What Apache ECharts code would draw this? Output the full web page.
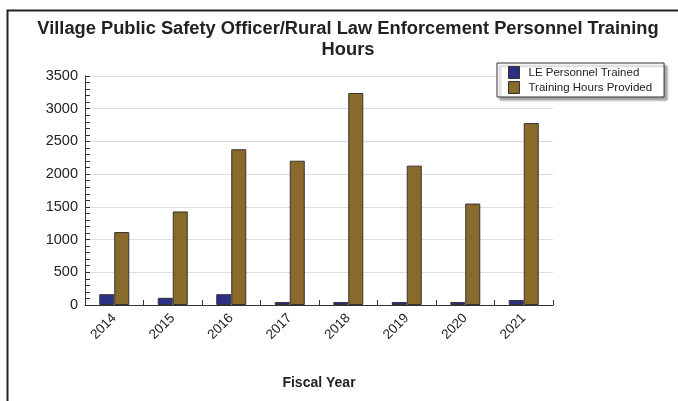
<!DOCTYPE html>
<html>
<head>
<meta charset="utf-8">
<script src="https://cdn.jsdelivr.net/npm/echarts@6/dist/echarts.min.js"></script>
<style>html,body{margin:0;padding:0;background:#fff;}#c{width:678px;height:401px;}</style>
</head>
<body>
<div id="c"></div>
<script>
const years = ['2014','2015','2016','2017','2018','2019','2020','2021'];
const personnelTrained = [165, 110, 165, 45, 45, 45, 45, 75];
const trainingHours = [1115, 1430, 2380, 2205, 3240, 2130, 1550, 2780];
const yTicks = {min: 0, max: 3500, interval: 500};

const chart = echarts.init(document.getElementById('c'), null, {renderer: 'canvas'});
const font = 'Liberation Sans, Arial, sans-serif';
chart.setOption({
  animation: false,
  textStyle: {fontFamily: font},
  graphic: [{
    type: 'rect', left: 5, top: 8, shape: {x: 0, y: 0, width: 700, height: 420},
    style: {fill: 'none', stroke: '#222', lineWidth: 2}, silent: true, z: 100
  }],
  title: {
    text: 'Village Public Safety Officer/Rural Law Enforcement Personnel Training\nHours',
    left: 343, top: 13, textAlign: 'center',
    textStyle: {fontFamily: font, fontSize: 18.3, fontWeight: 'bold', color: '#222', lineHeight: 21}
  },
  legend: {
    orient: 'vertical', left: 497, top: 63,
    icon: 'rect',
    itemWidth: 11, itemHeight: 12, itemGap: 2,
    padding: [3, 12, 3, 11],
    backgroundColor: '#fff', borderColor: '#333', borderWidth: 1,
    shadowColor: 'rgba(0,0,0,0.35)', shadowBlur: 2, shadowOffsetX: 3, shadowOffsetY: 3,
    textStyle: {fontFamily: font, fontSize: 11.5, color: '#222', padding: [0, 0, 0, 4]},
    itemStyle: {borderColor: '#333', borderWidth: 1},
    data: ['LE Personnel Trained', 'Training Hours Provided']
  },
  grid: {left: 85, right: 125, top: 76, bottom: 96},
  xAxis: {
    type: 'category', data: years,
    name: 'Fiscal Year', nameLocation: 'middle', nameGap: 71,
    nameTextStyle: {fontFamily: font, fontSize: 14, fontWeight: 'bold', color: '#222'},
    axisLine: {lineStyle: {color: '#333', width: 1}},
    axisTick: {show: true, inside: true, length: 5, lineStyle: {color: '#333'}, alignWithLabel: false},
    axisLabel: {rotate: 45, fontFamily: font, fontSize: 13.5, color: '#222', margin: 11}
  },
  yAxis: {
    type: 'value', min: yTicks.min, max: yTicks.max, interval: yTicks.interval,
    axisLine: {show: true, lineStyle: {color: '#333', width: 1}},
    axisTick: {show: true, inside: true, length: 5, lineStyle: {color: '#333'}},
    minorTick: {show: true, splitNumber: 5, length: 5, lineStyle: {color: '#333'}},
    splitLine: {show: true, lineStyle: {color: '#ddd', width: 1}},
    axisLabel: {fontFamily: font, fontSize: 14.5, color: '#222', margin: 7, formatter: v => String(v)}
  },
  series: [
    {
      name: 'LE Personnel Trained', type: 'bar', data: personnelTrained,
      barWidth: 15, barGap: '0%',
      itemStyle: {color: '#2c3085', borderColor: '#333', borderWidth: 1}
    },
    {
      name: 'Training Hours Provided', type: 'bar', data: trainingHours,
      barWidth: 15, barGap: '0%',
      itemStyle: {color: '#896a2b', borderColor: '#333', borderWidth: 1}
    }
  ]
});
</script>
</body>
</html>
